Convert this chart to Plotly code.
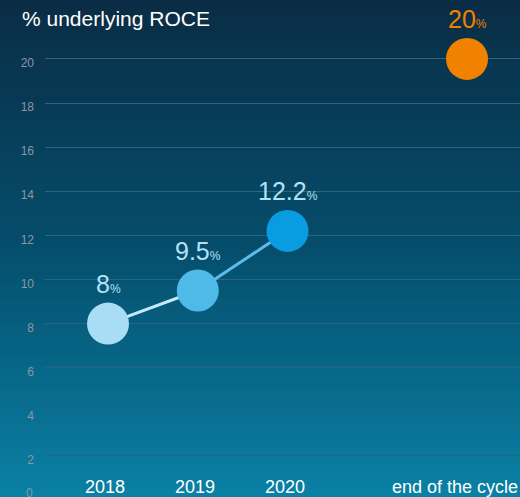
import plotly.graph_objects as go

categories = ["2018", "2019", "2020", " ", "end of the cycle"]
years = ["2018", "2019", "2020"]
roce = [8, 9.5, 12.2]
target_label = "end of the cycle"
target_value = 20
point_colors = ["#a9dcf5", "#4fb9e8", "#0a9ce0"]
segment_colors = ["#c4e9fa", "#5cbde9"]
y_ticks = list(range(0, 21, 2))

FONT_N = "Liberation Sans Narrow, Arial Narrow, Liberation Sans, Arial, sans-serif"
FONT = "Liberation Sans, Arial, sans-serif"

W, H, ML = 520, 497, 45

fig = go.Figure()

# background gradient (decorative)
top = (10, 45, 69)
mid = (5, 78, 108)
bot = (10, 128, 164)
N = 60
shapes = []
for i in range(N):
    t = i / (N - 1)  # 0 = bottom, 1 = top
    if t < 0.5:
        a, b, u = bot, mid, t / 0.5
    else:
        a, b, u = mid, top, (t - 0.5) / 0.5
    c = tuple(int(round(a[k] + (b[k] - a[k]) * u)) for k in range(3))
    shapes.append(dict(type="rect", xref="paper", yref="paper",
                       x0=-0.2, x1=1.05, y0=i / N, y1=(i + 1) / N + 0.002,
                       fillcolor="rgb(%d,%d,%d)" % c, line=dict(width=0),
                       layer="below"))

# line segments
for i in range(len(years) - 1):
    fig.add_trace(go.Scatter(x=years[i:i + 2], y=roce[i:i + 2], mode="lines",
                             line=dict(color=segment_colors[i], width=3),
                             hoverinfo="skip", showlegend=False))

fig.add_trace(go.Scatter(x=years, y=roce, mode="markers",
                         marker=dict(size=42, color=point_colors, line=dict(width=0)),
                         showlegend=False))
fig.add_trace(go.Scatter(x=[target_label], y=[target_value], mode="markers",
                         marker=dict(size=42, color="#f08200", line=dict(width=0)),
                         showlegend=False))

annotations = []
for x, v in zip(years, roce):
    annotations.append(dict(x=categories.index(x), y=v, xref="x", yref="y",
                            yanchor="bottom", yshift=24, showarrow=False,
                            text="%g<span style='font-size:12px'>%%</span>" % v,
                            font=dict(family=FONT_N, size=25, color="#b3e1f6")))
annotations.append(dict(x=categories.index(target_label), y=target_value,
                        xref="x", yref="y", yanchor="bottom", yshift=24,
                        showarrow=False,
                        text="%g<span style='font-size:12px'>%%</span>" % target_value,
                        font=dict(family=FONT_N, size=25, color="#f08200")))
# x category labels
for idx, cat in enumerate(categories):
    if not cat.strip():
        continue
    last = cat == categories[-1]
    annotations.append(dict(x=idx, y=0, xref="x", yref="paper",
                            yanchor="bottom", xanchor="right" if last else "center",
                            xshift=53 if last else -3, yshift=-2, showarrow=False,
                            text=cat,
                            font=dict(family=FONT_N, size=18, color="#ffffff")))
# lowest y tick label (partly below the visible area, as in the original)
annotations.append(dict(x=0, y=0, xref="paper", yref="paper",
                        xanchor="right", yanchor="middle", xshift=-10, yshift=4,
                        showarrow=False, text=str(y_ticks[0]),
                        font=dict(family=FONT, size=12, color="#8a98a2")))
annotations.append(dict(x=(20 - ML) / (W - ML), y=1 - 18 / H, xref="paper", yref="paper",
                        xanchor="left", yanchor="middle", showarrow=False,
                        text="% underlying ROCE",
                        font=dict(family=FONT, size=21, color="#ffffff")))

fig.update_layout(
    width=W, height=H,
    margin=dict(l=ML, r=0, t=0, b=0),
    paper_bgcolor="#0a5a7c",
    plot_bgcolor="rgba(0,0,0,0)",
    shapes=shapes,
    annotations=annotations,
    xaxis=dict(type="category", categoryorder="array", categoryarray=categories,
               range=[-0.702, 4.59], showgrid=False, zeroline=False,
               showline=False, ticks="", showticklabels=False),
    yaxis=dict(range=[0.14, 22.67], tickvals=y_ticks, showgrid=True,
               gridcolor="#2c6480", gridwidth=1, zeroline=False,
               showline=False, ticks="", ticklabelstandoff=10,
               ticklabelshift=4,
               tickfont=dict(family=FONT, size=12, color="#8a98a2")),
    showlegend=False,
)

fig.write_html("out.html", config={"displayModeBar": False},
               post_script="document.body.style.margin='0';")
